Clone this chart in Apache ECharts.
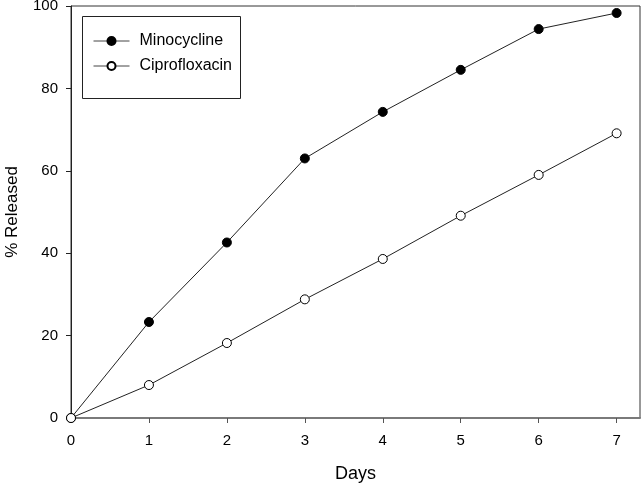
<!DOCTYPE html>
<html>
<head>
<meta charset="utf-8">
<script src="https://cdn.jsdelivr.net/npm/echarts@6/dist/echarts.min.js"></script>
<style>html,body{margin:0;padding:0;background:#fff}#c{width:644px;height:488px}</style>
</head>
<body>
<div id="c"></div>
<script>
const days = [0, 1, 2, 3, 4, 5, 6, 7];
const minocycline = [0, 23.3, 42.6, 63.0, 74.3, 84.5, 94.4, 98.3];
const ciprofloxacin = [0, 8.0, 18.2, 28.8, 38.6, 49.1, 59.0, 69.1];
const xTicks = [0, 1, 2, 3, 4, 5, 6, 7];
const yTicks = [0, 20, 40, 60, 80, 100];
const seriesNames = ['Minocycline', 'Ciprofloxacin'];

const chart = echarts.init(document.getElementById('c'), null, {renderer: 'canvas'});
const font = 'Liberation Sans, Arial, sans-serif';
const toPairs = arr => days.map((d, i) => [d, arr[i]]);
chart.setOption({
  animation: false,
  backgroundColor: '#fff',
  grid: {left: 71, right: 4, top: 6, bottom: 70, show: true, borderColor: '#333', borderWidth: 1,
         containLabel: false, outerBoundsMode: 'none'},
  graphic: [{
    type: 'rect', z: 5,
    shape: {x: 82.5, y: 16.5, width: 158, height: 82},
    style: {fill: '#fff', stroke: '#222', lineWidth: 1}
  }],
  legend: {
    z: 10,
    orient: 'vertical', left: 93, top: 33, padding: 0,
    itemWidth: 36, itemHeight: 10, itemGap: 9,
    lineStyle: {width: 1, color: '#444'},
    textStyle: {fontFamily: font, fontSize: 16, color: '#000', padding: [0, 0, 0, 5]},
    data: seriesNames
  },
  xAxis: {
    type: 'value', min: 0, max: 7.3,
    name: 'Days', nameLocation: 'middle', nameGap: 47,
    nameTextStyle: {fontFamily: font, fontSize: 18, color: '#000'},
    axisLine: {show: true, onZero: false, lineStyle: {color: '#7a7a7a', width: 2}},
    axisTick: {show: true, length: 5, customValues: xTicks, lineStyle: {color: '#555'}},
    axisLabel: {customValues: xTicks, margin: 15, fontFamily: font, fontSize: 15, color: '#000'},
    splitLine: {show: false}
  },
  yAxis: {
    type: 'value', min: 0, max: 100, interval: 20,
    name: '% Released', nameLocation: 'middle', nameGap: 50, nameRotate: 90,
    nameTextStyle: {fontFamily: font, fontSize: 17, color: '#000'},
    axisLine: {show: true, onZero: false, lineStyle: {color: '#222', width: 1}},
    axisTick: {show: true, length: 5, lineStyle: {color: '#222'}},
    axisLabel: {customValues: yTicks, margin: 13, fontFamily: font, fontSize: 15, color: '#000'},
    splitLine: {show: false}
  },
  series: [{
    name: seriesNames[0], type: 'line', data: toPairs(minocycline),
    symbol: 'circle', symbolSize: 9, showAllSymbol: true,
    lineStyle: {color: '#222', width: 1},
    itemStyle: {color: '#000', borderColor: '#000', borderWidth: 1},
    z: 3
  }, {
    name: seriesNames[1], type: 'line', data: toPairs(ciprofloxacin),
    symbol: 'circle', symbolSize: 9, showAllSymbol: true,
    lineStyle: {color: '#222', width: 1},
    itemStyle: {color: '#fff', borderColor: '#000', borderWidth: 1},
    z: 4
  }]
});
</script>
</body>
</html>
